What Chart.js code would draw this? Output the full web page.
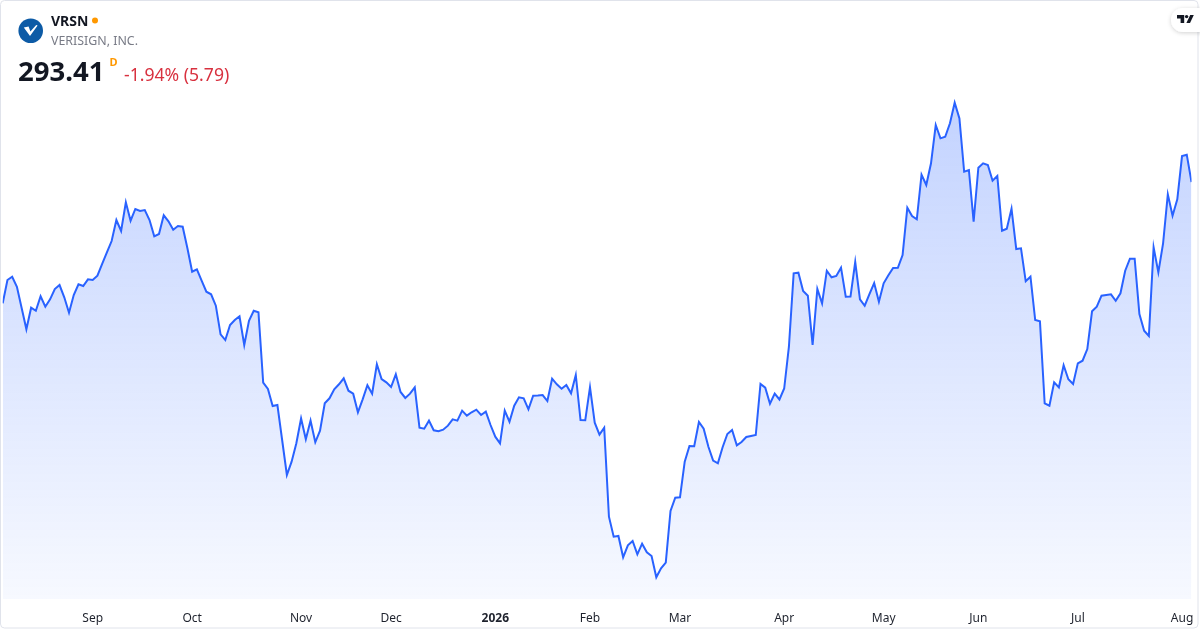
<!DOCTYPE html>
<html>
<head>
<meta charset="utf-8">
<script src="https://cdn.jsdelivr.net/npm/chart.js@4.4.1/dist/chart.umd.min.js"></script>
<style>
  html, body { margin: 0; padding: 0; background: #ffffff; }
  body { width: 1200px; height: 630px; position: relative; overflow: hidden; font-family: "Noto Sans", "Open Sans", sans-serif; }
  #chart { position: absolute; left: 0; top: 0; }
  #overlay { position: absolute; left: 0; top: 0; pointer-events: none; }
</style>
</head>
<body>
<canvas id="chart" width="1200" height="630"></canvas>
<svg id="overlay" width="1200" height="630" xmlns="http://www.w3.org/2000/svg">
  <defs>
    <filter id="sh" x="-30%" y="-50%" width="160%" height="200%">
      <feDropShadow dx="0" dy="1" stdDeviation="2" flood-color="#000" flood-opacity="0.18"/>
    </filter>
  </defs>
  <rect x="0.5" y="0.5" width="1197.5" height="627.5" rx="4" ry="4" fill="none" stroke="#e0e3eb" stroke-width="1"/>
  <!-- logo -->
  <circle cx="30.7" cy="30.7" r="12.3" fill="#0d5ba6"/>
  <path d="M23.8 27.4 L28.6 26.4 L30.4 31.6 L36.2 25.0 L37.6 25.6 L30.0 36.0 Z" fill="#ffffff"/>
  <text x="51" y="25.7" font-family="Noto Sans" font-weight="bold" font-size="14" fill="#131722" id="sym"></text>
  <circle cx="95" cy="20.5" r="3" fill="#ff9800"/>
  <text x="51" y="44.7" font-family="Noto Sans" font-size="12.4" fill="#787b86" id="cname"></text>
  <text x="18" y="81" font-family="Noto Sans" font-weight="bold" font-size="27.5" fill="#131722" id="price"></text>
  <text x="109.5" y="65.7" font-family="Noto Sans" font-weight="bold" font-size="11" fill="#ff9800">D</text>
  <text x="124" y="81" font-family="Noto Sans" font-size="17.6" fill="#d8313f" id="chg"></text>
  <!-- TV badge -->
  <rect x="1171" y="8" width="44" height="24" rx="12" ry="12" fill="#ffffff" filter="url(#sh)"/>
  <path d="M1177 15 H1184.2 V23 H1180.6 V18.4 H1177 Z" fill="#131722"/>
  <circle cx="1186.6" cy="16.6" r="1.7" fill="#131722"/>
  <path d="M1190.2 15 H1193.8 L1190 23 H1186.4 Z" fill="#131722"/>
</svg>
<script>
// ---- header texts ----
const symbol = "VRSN";
const companyName = "VERISIGN, INC.";
const lastPriceText = "293.41";
const changeText = "-1.94% (5.79)";

// ---- x-axis month ticks (trading-day index of first session of month) ----
const monthLabels = ["Sep", "Oct", "Nov", "Dec", "2026", "Feb", "Mar", "Apr", "May", "Jun", "Jul", "Aug"];
const monthIdx    = [19, 40, 63, 82, 104, 124, 143, 165, 186, 206, 227, 249];

// ---- daily closes (Aug 2025 – Aug 2026) ----
const prices = [
  267.70, 272.63, 273.33, 271.21, 266.70, 262.18, 266.76, 266.12, 269.18, 266.97,
  268.54, 270.72, 271.57, 268.97, 265.70, 269.45, 271.72, 271.36, 272.78, 272.63,
  273.55, 276.03, 278.51, 280.90, 285.35, 283.02, 289.11, 285.21, 287.69, 287.26,
  287.47, 285.35, 281.90, 282.39, 286.35, 285.08, 283.30, 284.08, 283.93, 279.35,
  274.39, 274.90, 272.49, 270.15, 269.60, 267.19, 261.12, 259.91, 263.09, 264.15,
  264.94, 258.85, 264.00, 266.12, 265.79, 250.86, 249.53, 245.92, 246.13, 238.71,
  231.29, 234.11, 238.01, 243.27, 238.86, 242.81, 238.23, 240.69, 246.49, 247.55,
  249.46, 250.52, 251.79, 249.16, 248.53, 244.59, 247.34, 250.31, 248.53, 254.76,
  251.64, 250.94, 249.95, 252.64, 248.89, 247.62, 248.53, 249.88, 241.32, 241.11,
  242.81, 240.77, 240.56, 240.90, 241.75, 243.10, 242.81, 244.93, 243.87, 244.59,
  245.14, 244.01, 244.72, 241.89, 239.41, 238.01, 244.93, 242.59, 245.99, 247.77,
  247.55, 245.22, 248.11, 248.15, 248.25, 246.98, 251.71, 250.52, 249.59, 250.37,
  248.61, 252.49, 242.95, 242.90, 249.91, 242.38, 239.84, 241.32, 222.45, 218.21,
  218.36, 213.84, 216.39, 217.30, 214.48, 216.73, 214.91, 214.12, 209.60, 211.51,
  212.70, 223.66, 226.48, 226.56, 234.11, 237.44, 237.38, 242.53, 241.11, 237.29,
  234.33, 233.77, 237.17, 239.98, 240.83, 237.59, 238.29, 239.35, 239.56, 239.77,
  250.59, 249.80, 246.41, 248.53, 247.30, 249.63, 258.49, 274.05, 274.18, 270.30,
  269.31, 258.85, 270.72, 267.69, 274.60, 273.20, 273.48, 275.24, 269.09, 269.13,
  276.45, 268.54, 267.18, 269.66, 272.00, 268.03, 271.93, 273.63, 275.18, 275.22,
  277.93, 287.96, 286.20, 285.50, 294.96, 292.77, 297.37, 305.49, 302.67, 303.01,
  305.85, 310.22, 306.91, 295.59, 295.95, 284.99, 296.44, 297.37, 297.01, 293.68,
  294.68, 283.08, 283.51, 287.75, 279.20, 279.35, 272.36, 273.33, 264.15, 263.88,
  246.49, 245.99, 250.94, 249.88, 254.55, 251.58, 250.59, 254.97, 255.52, 258.00,
  266.00, 266.97, 269.31, 269.45, 269.60, 268.24, 269.81, 274.60, 277.15, 277.15,
  265.42, 261.88, 260.76, 279.56, 274.26, 280.41, 290.80, 286.26, 289.74, 298.92,
  299.20, 293.41
];

// ---- price axis range ----
const priceMin = 205;
const priceMax = 320;

document.getElementById('sym').textContent = symbol;
document.getElementById('cname').textContent = companyName;
document.getElementById('price').textContent = lastPriceText;
document.getElementById('chg').textContent = changeText;

const lineColor = '#2962ff';

new Chart(document.getElementById('chart'), {
  type: 'line',
  data: {
    datasets: [{
      data: prices.map((p, i) => ({ x: i, y: p })),
      borderColor: lineColor,
      borderWidth: 2,
      pointRadius: 0,
      pointHoverRadius: 0,
      tension: 0,
      fill: 'start',
      backgroundColor: (ctx) => {
        const chart = ctx.chart;
        const area = chart.chartArea;
        if (!area) return 'rgba(41,98,255,0.15)';
        const g = chart.ctx.createLinearGradient(0, area.top, 0, area.bottom);
        g.addColorStop(0, 'rgba(41,98,255,0.30)');
        g.addColorStop(1, 'rgba(41,98,255,0.04)');
        return g;
      }
    }]
  },
  options: {
    responsive: false,
    animation: false,
    events: [],
    layout: { padding: { left: 2.7, right: 8.5, top: 56.6, bottom: 0 } },
    plugins: { legend: { display: false }, tooltip: { enabled: false } },
    scales: {
      x: {
        type: 'linear',
        min: 0,
        max: prices.length - 1,
        offset: false,
        grid: { display: false },
        border: { display: false },
        afterBuildTicks: (scale) => { scale.ticks = monthIdx.map(v => ({ value: v })); },
        afterFit: (scale) => { scale.height = 31; scale.paddingLeft = 0; scale.paddingRight = 0; },
        ticks: {
          autoSkip: false,
          maxRotation: 0,
          minRotation: 0,
          padding: 4,
          color: '#1e222d',
          font: (c) => ({
            family: 'Noto Sans',
            size: 12,
            weight: (c.tick && monthLabels[monthIdx.indexOf(c.tick.value)] === '2026') ? 'bold' : 'normal'
          }),
          callback: (value) => {
            const k = monthIdx.indexOf(value);
            return k >= 0 ? monthLabels[k] : '';
          }
        }
      },
      y: {
        display: false,
        min: priceMin,
        max: priceMax
      }
    }
  }
});
</script>
</body>
</html>
